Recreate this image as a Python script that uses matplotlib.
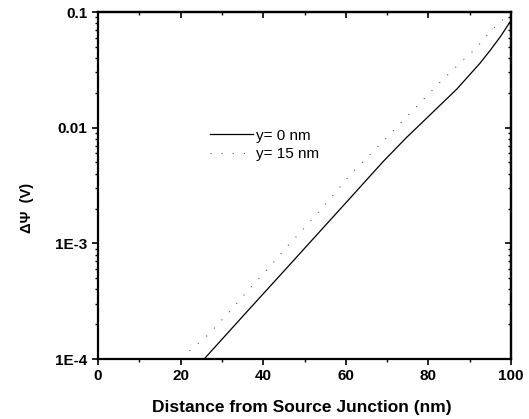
import matplotlib
matplotlib.use("Agg")
import matplotlib.pyplot as plt
from matplotlib.ticker import FixedLocator, FixedFormatter, LogLocator, MultipleLocator, NullFormatter
import numpy as np

# potential difference along the channel at two depths
x_y0 = [25.7, 36.0, 45.7, 61.0, 69.1, 74.7, 80.4, 86.9, 92.5, 95.0, 97.5, 99.8]
dpsi_y0 = [1.0e-4, 2.55e-4, 6.12e-4, 2.45e-3, 5.12e-3, 8.22e-3, 1.29e-2, 2.16e-2,
           3.61e-2, 4.68e-2, 6.17e-2, 8.24e-2]

x_y15 = [20.3, 21.5, 26.9, 32.6, 36.8, 41.4, 45.8, 50.4, 54.7, 61.4, 69.5, 83.6, 91.3, 94.9, 100.0]
dpsi_y15 = [1.0e-4, 1.12e-4, 1.65e-4, 2.75e-4, 4.09e-4, 6.17e-4, 9.38e-4, 1.41e-3,
            2.10e-3, 4.04e-3, 7.94e-3, 2.64e-2, 4.77e-2, 6.76e-2, 1.0e-1]

series_labels = ["y= 0 nm", "y= 15 nm"]
ytick_vals = [1e-4, 1e-3, 1e-2, 1e-1]
ytick_text = ["1E-4", "1E-3", "0.01", "0.1"]

plt.rcParams["font.family"] = ["Liberation Sans", "DejaVu Sans"]

fig = plt.figure(figsize=(5.29, 4.19), dpi=100)
ax = fig.add_axes([98 / 529, 1 - 359 / 419, (511 - 98) / 529, (359 - 12) / 419])

ax.plot(x_y0, dpsi_y0, color="black", lw=0.9, label=series_labels[0])
ax.plot(x_y15, dpsi_y15, color="#555555", lw=0.8, linestyle=(0, (1, 9)),
        label=series_labels[1])

ax.set_yscale("log")
ax.set_xlim(0, 100)
ax.set_ylim(1e-4, 0.1)

ax.xaxis.set_major_locator(MultipleLocator(20))
ax.xaxis.set_minor_locator(MultipleLocator(10))
ax.yaxis.set_major_locator(FixedLocator(ytick_vals))
ax.yaxis.set_major_formatter(FixedFormatter(ytick_text))
ax.yaxis.set_minor_locator(LogLocator(base=10, subs=np.arange(2, 10)))
ax.yaxis.set_minor_formatter(NullFormatter())

for s in ax.spines.values():
    s.set_linewidth(1.6)

ax.tick_params(which="major", direction="out", length=4, width=1.2,
               labelsize=11, pad=3.5)
ax.tick_params(which="minor", direction="out", length=2.5, width=1.0)

# inward ticks mirrored on top and right
ax_top = ax.secondary_xaxis("top")
ax_top.xaxis.set_major_locator(MultipleLocator(20))
ax_top.xaxis.set_minor_locator(MultipleLocator(10))
ax_top.tick_params(which="major", direction="in", length=4, width=1.2, labeltop=False)
ax_top.tick_params(which="minor", direction="in", length=2.5, width=1.0)
ax_top.spines["top"].set_linewidth(1.6)

ax_right = ax.secondary_yaxis("right")
ax_right.yaxis.set_major_locator(FixedLocator(ytick_vals))
ax_right.yaxis.set_minor_locator(LogLocator(base=10, subs=np.arange(2, 10)))
ax_right.yaxis.set_minor_formatter(NullFormatter())
ax_right.tick_params(which="major", direction="in", length=4, width=1.2, labelright=False)
ax_right.tick_params(which="minor", direction="in", length=2.5, width=1.0)
ax_right.spines["right"].set_linewidth(1.6)

for lbl in ax.get_xticklabels() + ax.get_yticklabels():
    lbl.set_fontweight("bold")

ax.set_xlabel("Distance from Source Junction (nm)", fontsize=12.5,
              fontweight="bold", va="center")
ax.xaxis.set_label_coords(0.494, -0.14)
ax.set_ylabel("ΔΨ  (V)", fontsize=10.5, fontweight="bold", va="center")
ax.yaxis.set_label_coords(-0.172, 0.435)

leg = ax.legend(loc="center left", bbox_to_anchor=(0.271, 0.617), frameon=False,
                fontsize=11, handlelength=2.8, handletextpad=0.2,
                labelspacing=0.3, borderaxespad=0, borderpad=0)

fig.savefig("out.png", dpi=100)
